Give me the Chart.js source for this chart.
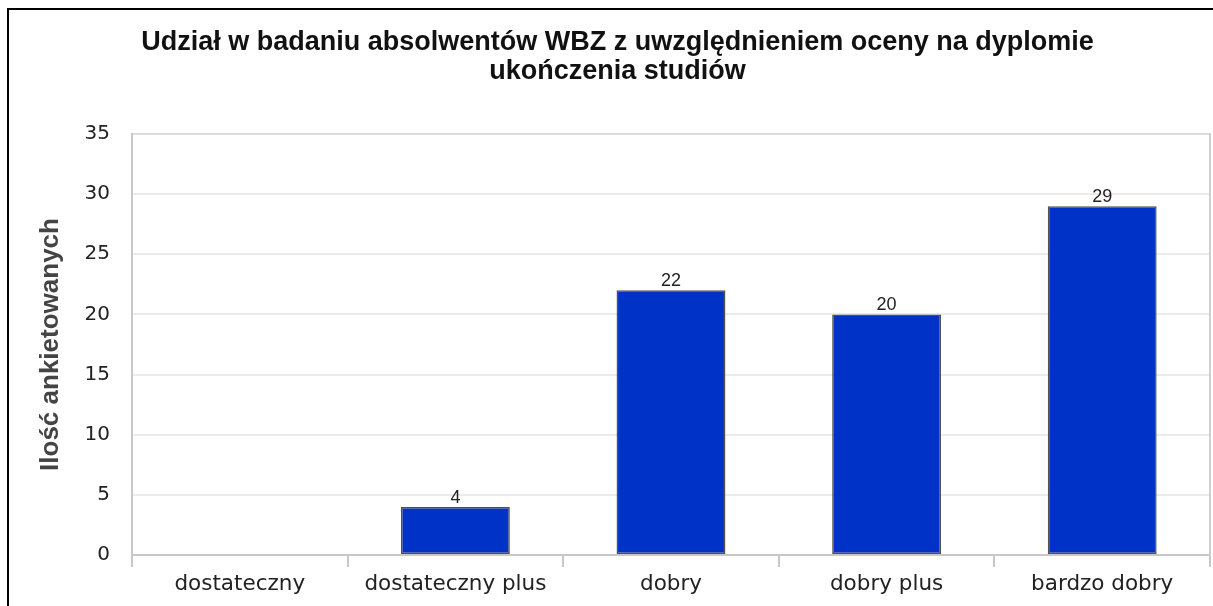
<!DOCTYPE html>
<html>
<head>
<meta charset="utf-8">
<script src="https://cdn.jsdelivr.net/npm/chart.js@4/dist/chart.umd.min.js"></script>
<style>
  html, body { margin: 0; padding: 0; background: #fff; overflow: hidden; }
  #wrap { position: relative; width: 1213px; height: 606px; }
  #frame { position: absolute; left: 7px; top: 8px; width: 1300px; height: 700px;
           border-left: 2px solid #000; border-top: 2px solid #000; pointer-events: none; }
  canvas { position: absolute; left: 0; top: 0; }
</style>
</head>
<body>
<div id="wrap">
  <canvas id="c" width="1213" height="606"></canvas>
  <div id="frame"></div>
</div>
<script>
const titleLines = ['Udział w badaniu absolwentów WBZ z uwzględnieniem oceny na dyplomie', 'ukończenia studiów'];
const categories = ['dostateczny', 'dostateczny plus', 'dobry', 'dobry plus', 'bardzo dobry'];
const respondents = [0, 4, 22, 20, 29];
const yAxisTitle = 'Ilość ankietowanych';
const yMin = 0, yMax = 35, yStep = 5;

const valueLabels = {
  id: 'valueLabels',
  afterDatasetsDraw(chart) {
    const ctx = chart.ctx;
    const meta = chart.getDatasetMeta(0);
    ctx.save();
    ctx.font = '18px "Liberation Sans", Arial, sans-serif';
    ctx.fillStyle = '#222';
    ctx.textAlign = 'center';
    ctx.textBaseline = 'alphabetic';
    meta.data.forEach((bar, i) => {
      const v = chart.data.datasets[0].data[i];
      if (v > 0) ctx.fillText(String(v), bar.x, bar.y - 4);
    });
    ctx.restore();
  }
};

new Chart(document.getElementById('c'), {
  type: 'bar',
  data: {
    labels: categories,
    datasets: [{
      data: respondents,
      backgroundColor: '#0032c8',
      borderColor: '#505050',
      borderWidth: 1.5,
      borderSkipped: false,
      categoryPercentage: 1,
      barPercentage: 0.505
    }]
  },
  options: {
    responsive: false,
    animation: false,
    layout: { padding: { left: 22, right: 0, top: 0, bottom: 0 } },
    plugins: {
      legend: { display: false },
      tooltip: { enabled: false },
      title: {
        display: true,
        text: titleLines,
        color: '#111',
        font: { family: '"Liberation Sans", Arial, sans-serif', size: 27, weight: 'bold', lineHeight: 1.074 },
        padding: { top: 28, bottom: 48 }
      }
    },
    scales: {
      x: {
        grid: { display: true, drawOnChartArea: false, drawTicks: true, tickLength: 12, color: '#c8c8c8', lineWidth: 2, offset: true },
        border: { display: true, color: '#c8c8c8', width: 2 },
        ticks: { color: '#222', padding: 5, maxRotation: 0, autoSkip: false,
                 font: { family: '"DejaVu Sans", Verdana, sans-serif', size: 21.5 } },
        afterFit(s) { s.height = 51; }
      },
      y: {
        position: 'left',
        min: yMin, max: yMax,
        grid: { color: (c) => c.tick && c.tick.value === yMax ? '#dcdcdc' : '#ebebeb', lineWidth: 2, drawTicks: false },
        border: { display: true, color: '#c8c8c8', width: 2 },
        ticks: { stepSize: yStep, color: '#222', padding: 22,
                 font: { family: '"DejaVu Sans", Verdana, sans-serif', size: 20 } },
        title: { display: true, text: yAxisTitle, color: '#444',
                 font: { family: '"Liberation Sans", Arial, sans-serif', size: 26, weight: 'bold' },
                 padding: { top: 13, bottom: 0 } },
        afterFit(s) { s.width = 110; }
      },
      y2: {
        position: 'right',
        min: yMin, max: yMax,
        grid: { drawOnChartArea: false, drawTicks: false },
        border: { display: true, color: '#d0d0d0', width: 2 },
        ticks: { display: false },
        afterFit(s) { s.width = 3; }
      }
    }
  },
  plugins: [valueLabels]
});
</script>
</body>
</html>
